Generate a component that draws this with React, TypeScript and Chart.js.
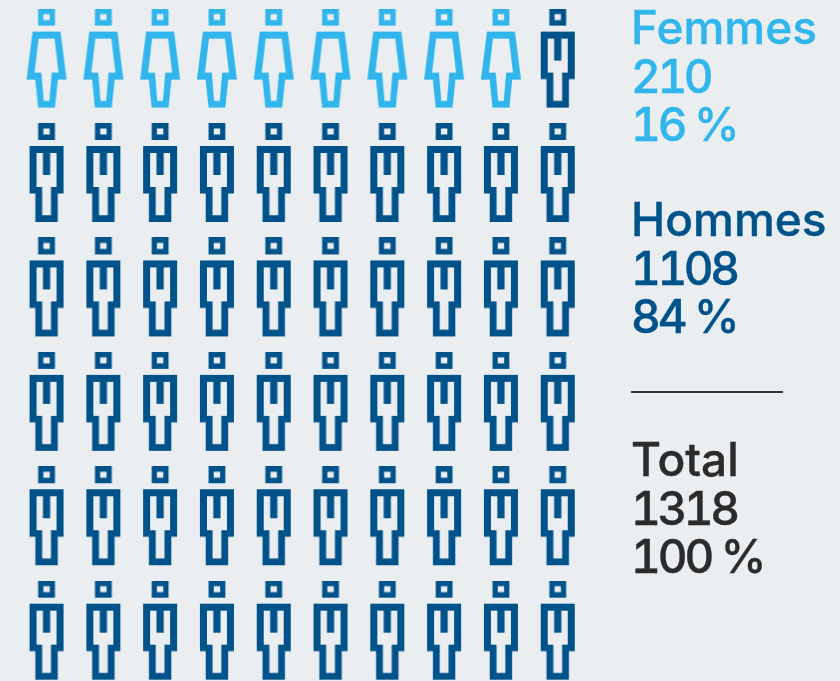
import React, { useEffect, useRef } from "react";
import { Chart, registerables } from "chart.js";

Chart.register(...registerables);

const BG = "#eaeef0";
const LIGHT = "#30b5ec";
const DARK = "#00528a";
const INK = "#2b2b2b";

// Pictogram: 60 figures in 10 columns by 6 rows
const columns = [0, 1, 2, 3, 4, 5, 6, 7, 8, 9];
const rows = [0, 1, 2, 3, 4, 5];
const femmesCount = 9;

const legendFemmes = ["Femmes", "210", "16\u00a0%"];
const legendHommes = ["Hommes", "1108", "84\u00a0%"];
const legendTotal = ["Total", "1318", "100\u00a0%"];

const allCells = rows.flatMap((r) => columns.map((c) => ({ x: c, y: r })));
const femmesCells = allCells.slice(0, femmesCount);
const hommesCells = allCells.slice(femmesCount);

type Poly = number[][];

function makeIcon(color: string, polys: Poly[]) {
  const c = document.createElement("canvas");
  c.width = 42;
  c.height = 100;
  const g = c.getContext("2d")!;
  g.fillStyle = color;
  g.beginPath();
  for (const p of polys) {
    p.forEach(([x, y], i) => (i ? g.lineTo(x + 21, y) : g.moveTo(x + 21, y)));
    g.closePath();
  }
  g.fill("evenodd");
  return c;
}

const head: Poly[] = [
  [[-8.4, 0], [8.4, 0], [8.4, 17], [-8.4, 17]],
  [[-3.2, 5.4], [3.2, 5.4], [3.2, 11.6], [-3.2, 11.6]],
];
const womanShape: Poly[] = [
  ...head,
  [[-14, 23], [14, 23], [20, 71], [11.3, 71], [8.4, 99], [-8.4, 99], [-11.3, 71], [-20, 71]],
  [[-8, 30], [8, 30], [12, 64], [5.2, 64], [2.8, 92.2], [-2.8, 92.2], [-5.2, 64], [-12, 64]],
];
const manShape: Poly[] = [
  ...head,
  [[-17, 23], [17, 23], [17, 70.5], [11.2, 70.5], [11.2, 99], [-11.2, 99], [-11.2, 70.5], [-17, 70.5]],
  [
    [-10, 30], [-3.6, 30], [-3.6, 52], [3.6, 52], [3.6, 30], [10, 30],
    [10, 64], [4.4, 64], [4.4, 92.2], [-4.4, 92.2], [-4.4, 64], [-10, 64],
  ],
];

const font = '500 46px Inter, "Liberation Sans", sans-serif';

function Block({ lines, color, top }: { lines: string[]; color: string; top: number }) {
  const spacing = ["0px", "-3.4px", "-3px"];
  return (
    <div
      style={{
        position: "absolute",
        left: 631,
        top,
        color,
        font,
        lineHeight: "48.5px",
        whiteSpace: "nowrap",
        fontVariantNumeric: "tabular-nums",
        WebkitTextStroke: `0.4px ${color}`,
      }}
    >
      {lines.map((l, i) => (
        <div key={l} style={{ letterSpacing: spacing[i] }}>{l}</div>
      ))}
    </div>
  );
}

export default function App() {
  const ref = useRef<HTMLCanvasElement>(null);
  useEffect(() => {
    document.body.style.margin = "0";
    document.body.style.background = BG;
    const chart = new Chart(ref.current!, {
      type: "scatter",
      data: {
        datasets: [
          { label: "Femmes", data: femmesCells, pointStyle: makeIcon(LIGHT, womanShape) as any, pointRadius: 21 },
          { label: "Hommes", data: hommesCells, pointStyle: makeIcon(DARK, manShape) as any, pointRadius: 21 },
        ],
      },
      options: {
        animation: false,
        responsive: false,
        layout: { padding: 0, autoPadding: false },
        plugins: { legend: { display: false }, tooltip: { enabled: false } },
        scales: {
          x: { type: "linear", display: false, min: -0.819, max: 13.97 },
          y: { type: "linear", display: false, reverse: true, min: -0.512, max: 5.44 },
        },
      },
    });
    return () => chart.destroy();
  }, []);
  return (
    <div style={{ position: "relative", width: 840, height: 681, overflow: "hidden", background: BG }}>
      <canvas ref={ref} width={840} height={681} style={{ position: "absolute", left: 0, top: 0 }} />
      <Block lines={legendFemmes} color={LIGHT} top={3} />
      <Block lines={legendHommes} color={DARK} top={195} />
      <div style={{ position: "absolute", left: 631, top: 391, width: 152, height: 2, background: "#333" }} />
      <Block lines={legendTotal} color={INK} top={435} />
    </div>
  );
}
